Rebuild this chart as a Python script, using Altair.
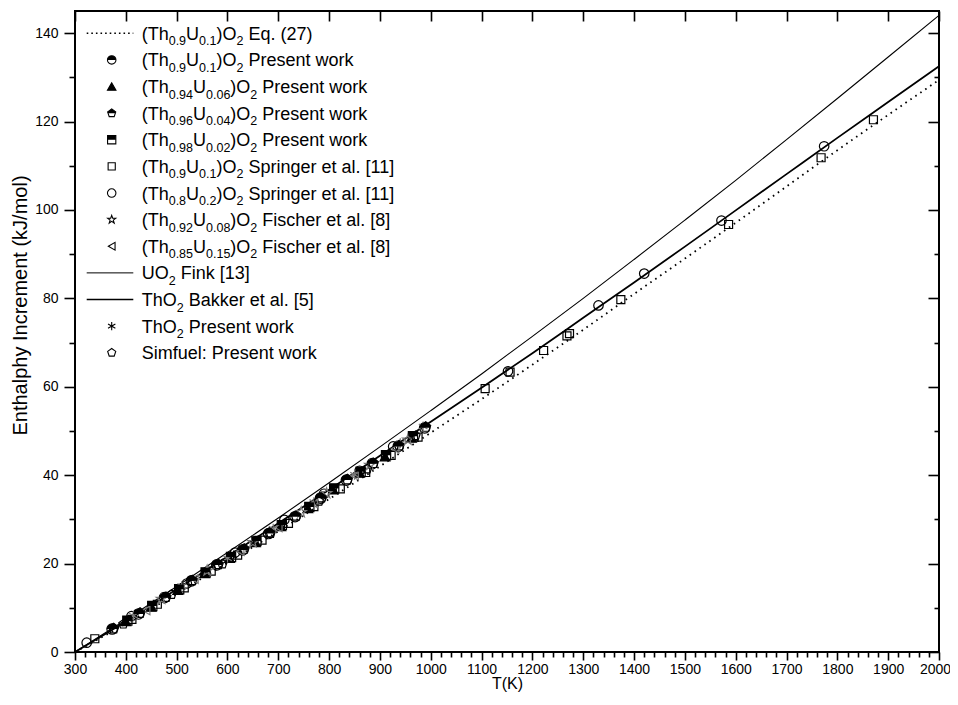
import math
import re
import altair as alt
import pandas as pd

# ---------------- values ----------------
T_CURVE = [300, 400, 500, 600, 700, 800, 900, 1000, 1100, 1200, 1300, 1400,
           1500, 1600, 1700, 1800, 1900, 2000]
H_FINK = [0.0, 7.3, 14.8, 22.5, 30.3, 38.3, 46.4, 54.6, 62.9, 71.4, 80.0, 88.8,
          97.7, 106.7, 115.9, 125.2, 134.6, 144.0]
H_BAKKER = [0.0, 6.9, 14.2, 21.6, 29.1, 36.7, 44.4, 52.1, 59.8, 67.6, 75.6, 83.6,
            91.7, 99.9, 108.1, 116.3, 124.4, 132.5]
H_EQ27 = [0.0, 6.4, 13.2, 20.2, 27.3, 34.6, 42.0, 49.6, 57.2, 65.0, 72.9, 81.0,
          89.0, 97.1, 105.3, 113.5, 121.5, 129.4]

PW90_T = [373, 425, 476, 529, 579, 630, 681, 733, 783, 834, 885, 936, 988]
PW90_H = [5.2, 8.6, 12.3, 16.1, 19.7, 23.1, 26.8, 30.6, 34.8, 38.9, 42.6, 46.5, 50.7]
PW94_T = [400, 450, 502, 555, 604, 655, 705, 758, 808, 860, 910, 962]
PW94_H = [6.9, 10.2, 14.0, 17.8, 21.2, 24.8, 28.4, 32.5, 36.7, 40.5, 44.2, 48.4]
PW96_T = [376, 428, 479, 531, 582, 633, 683, 735, 785, 836, 887, 938, 990]
PW96_H = [5.3, 8.8, 12.4, 16.2, 19.8, 23.3, 27.0, 30.8, 34.9, 39.0, 42.7, 46.7, 50.9]
PW98_T = [403, 452, 505, 557, 607, 657, 707, 761, 810, 862, 912, 965]
PW98_H = [7.1, 10.4, 14.2, 18.0, 21.5, 25.1, 28.7, 32.8, 37.0, 40.8, 44.5, 48.8]
SPR90_T = [339, 412, 462, 515, 568, 620, 668, 720, 770, 822, 872, 922, 975,
           1107, 1156, 1222, 1268, 1273, 1374, 1586, 1768, 1871]
SPR90_H = [3.0, 7.4, 10.8, 14.5, 18.3, 21.9, 25.3, 29.1, 32.9, 36.9, 40.6, 44.5, 48.6,
           59.6, 63.3, 68.2, 71.5, 72.0, 79.7, 96.7, 111.8, 120.4]
SPR80_T = [323, 411, 520, 615, 712, 790, 860, 926, 1152, 1330, 1420, 1572, 1774]
SPR80_H = [2.1, 8.1, 15.5, 22.5, 29.9, 35.8, 41.0, 46.5, 63.5, 78.4, 85.6, 97.6, 114.4]
FIS92_T = [470, 560, 650, 745, 795, 880, 955]
FIS92_H = [12.0, 18.4, 24.8, 31.6, 35.9, 42.3, 48.0]
FIS85_T = [440, 535, 625, 700, 770, 850, 930]
FIS85_H = [9.4, 16.5, 22.8, 28.2, 33.6, 39.9, 46.0]
THO2_T = [415, 510, 600, 690, 770, 850, 940, 985]
THO2_H = [8.2, 14.9, 21.2, 27.9, 33.9, 40.1, 47.2, 51.0]
SIM_T = [395, 490, 590, 685, 780, 875, 970]
SIM_H = [6.3, 13.0, 19.9, 26.8, 34.1, 41.4, 48.9]

X_MAJOR = list(range(300, 2001, 100))
X_MINOR = [t for t in range(320, 2000, 20) if t % 100]
Y_MAJOR = list(range(0, 141, 20))
Y_MINOR = list(range(10, 141, 20))

LEGEND = [
    ("eq27", "(Th_{0.9}U_{0.1})O_{2} Eq. (27)"),
    ("pw90", "(Th_{0.9}U_{0.1})O_{2} Present work"),
    ("pw94", "(Th_{0.94}U_{0.06})O_{2} Present work"),
    ("pw96", "(Th_{0.96}U_{0.04})O_{2} Present work"),
    ("pw98", "(Th_{0.98}U_{0.02})O_{2} Present work"),
    ("spr90", "(Th_{0.9}U_{0.1})O_{2} Springer et al. [11]"),
    ("spr80", "(Th_{0.8}U_{0.2})O_{2} Springer et al. [11]"),
    ("fis92", "(Th_{0.92}U_{0.08})O_{2} Fischer et al. [8]"),
    ("fis85", "(Th_{0.85}U_{0.15})O_{2} Fischer et al. [8]"),
    ("fink", "UO_{2} Fink [13]"),
    ("bakker", "ThO_{2} Bakker et al. [5]"),
    ("tho2", "ThO_{2} Present work"),
    ("sim", "Simfuel: Present work"),
]

# ---------------- styling / geometry ----------------
FONT = "Liberation Sans, Arial, Helvetica, sans-serif"
MAIN, SUB = 18, 12.5
MAIN_DY, SUB_DY = 6.5, 12.0
ROW0, ROWSTEP = 22.3, 26.62
MARK_X, LINE_X1, LINE_X2, TEXT_X = 36.7, 11.7, 58.3, 66.7

def star_path():
    pts = []
    for k in range(10):
        r = 1.0 if k % 2 == 0 else 0.40
        a = math.radians(-90 + 36 * k)
        pts.append(f"{r*math.cos(a):.3f},{r*math.sin(a):.3f}")
    return "M" + "L".join(pts) + "Z"

PENT = "M0,-1L0.951,-0.309L0.588,0.809L-0.588,0.809L-0.951,-0.309Z"
HALF_PENT = "M0,-1L0.951,-0.309L0.851,0L-0.851,0L-0.951,-0.309Z"
HALF_CIRC = "M-1,0A1,1,0,0,1,1,0Z"
HALF_SQ = "M-1,-1L1,-1L1,0L-1,0Z"
ASTER = "M0,-1L0,1M-0.866,-0.5L0.866,0.5M-0.866,0.5L0.866,-0.5"
STAR = star_path()

STYLE = {
    "pw90": ("circle", "transparent", "black", HALF_CIRC, 110),
    "pw94": ("triangle-up", "black", "black", None, 95),
    "pw96": (PENT, "transparent", "black", HALF_PENT, 110),
    "pw98": ("square", "transparent", "black", HALF_SQ, 85),
    "spr90": ("square", "transparent", "black", None, 64),
    "spr80": ("circle", "transparent", "black", None, 90),
    "fis92": (STAR, "transparent", "#777777", None, 120),
    "fis85": ("triangle-left", "transparent", "#777777", None, 75),
    "tho2": (ASTER, "transparent", "#777777", None, 100),
    "sim": (PENT, "transparent", "black", None, 90),
}
SERIES = [("pw90", PW90_T, PW90_H), ("pw94", PW94_T, PW94_H),
          ("pw96", PW96_T, PW96_H), ("pw98", PW98_T, PW98_H),
          ("spr90", SPR90_T, SPR90_H), ("spr80", SPR80_T, SPR80_H),
          ("fis92", FIS92_T, FIS92_H), ("fis85", FIS85_T, FIS85_H),
          ("tho2", THO2_T, THO2_H), ("sim", SIM_T, SIM_H)]

W = {' ': 278, '(': 333, ')': 333, '.': 278, '[': 278, ']': 278, ':': 278, '/': 278,
     'T': 611, 'h': 556, 'U': 722, 'O': 778, 'E': 667, 'q': 556, 'P': 667, 'r': 333,
     'e': 556, 's': 500, 'n': 556, 't': 278, 'w': 722, 'o': 556, 'k': 500, 'S': 667,
     'p': 556, 'i': 222, 'g': 556, 'a': 556, 'l': 222, 'F': 611, 'c': 500, 'B': 667,
     'm': 833, 'f': 278, 'u': 556, 'K': 667}

def tw(s, size):
    return sum(W.get(c, 556) for c in s) * size / 1000.0

# ---------------- tables ----------------
curves = pd.DataFrame({"T": T_CURVE, "fink": H_FINK, "bakker": H_BAKKER, "eq27": H_EQ27})

pts, halves = [], []
for key, ts, hs in SERIES:
    shp, fill, stroke, half, size = STYLE[key]
    for t, h in zip(ts, hs):
        pts.append(dict(T=t, H=h, shp=shp, fill=fill, stroke=stroke, size=size))
        if half:
            halves.append(dict(T=t, H=h, shp=half, size=size))
pts = pd.DataFrame(pts)
halves = pd.DataFrame(halves)

leg_main, leg_sub, leg_pts, leg_half, leg_lines = [], [], [], [], {}
for i, (key, label) in enumerate(LEGEND):
    yc = ROW0 + i * ROWSTEP
    x = TEXT_X
    parts = re.split(r"_\{([^}]*)\}", label)
    for k, p in enumerate(parts):
        if not p:
            continue
        is_sub = k % 2 == 1
        size = SUB if is_sub else MAIN
        s = p.lstrip(" ")
        x += tw(p[:len(p) - len(s)], size)
        (leg_sub if is_sub else leg_main).append(
            dict(px=x, py=yc + (SUB_DY if is_sub else MAIN_DY), t=s))
        x += tw(s, size)
    if key in STYLE:
        shp, fill, stroke, half, size = STYLE[key]
        leg_pts.append(dict(px=MARK_X, py=yc, shp=shp, fill=fill,
                            stroke="black", size=min(size, 90) * 0.8))
        if half:
            leg_half.append(dict(px=MARK_X, py=yc, shp=half, size=min(size, 90) * 0.8))
    else:
        leg_lines[key] = pd.DataFrame([dict(x1=LINE_X1, x2=LINE_X2, y=yc)])

# ---------------- scales & axes ----------------
xs = alt.Scale(domain=[300, 2000], nice=False, zero=False)
ys = alt.Scale(domain=[0, 145], nice=False, zero=False)
common = dict(grid=False, domain=False, tickColor="black", tickWidth=1.6)
xlab = dict(format="d", tickSize=8, labelFont=FONT, labelFontSize=14,
            labelColor="black", labelPadding=2, labelFlush=False, labelOverlap=False)

ax_bottom = alt.Axis(orient="bottom", values=X_MAJOR[:-1], title="T(K)",
                     titleFont=FONT, titleFontSize=16, titleFontWeight="normal",
                     titleColor="black", titleBaseline="alphabetic", titleY=36,
                     **xlab, **common)
ax_bottom_last = alt.Axis(orient="bottom", values=X_MAJOR[-1:], title=None,
                          labelOffset=-4, **xlab, **common)
ax_bottom_minor = alt.Axis(orient="bottom", values=X_MINOR, tickSize=5, labels=False,
                           title=None, **common)
ax_top = alt.Axis(orient="top", values=X_MAJOR, tickSize=10, offset=-10,
                  labels=False, title=None, **common)
ax_left = alt.Axis(orient="left", values=Y_MAJOR, format="d", tickSize=11,
                   labelFont=FONT, labelFontSize=14, labelColor="black", labelPadding=6,
                   labelFlush=False, title="Enthalphy Increment (kJ/mol)",
                   titleFont=FONT, titleFontSize=20, titleFontWeight="normal",
                   titleColor="black", titleX=-55, titleY=294,
                   titleBaseline="middle", titleAlign="center", **common)
ax_left_minor = alt.Axis(orient="left", values=Y_MINOR, tickSize=6, labels=False,
                         title=None, **common)
ax_right = alt.Axis(orient="right", values=Y_MAJOR, tickSize=11, offset=-11,
                    labels=False, title=None, **common)
ax_right_minor = alt.Axis(orient="right", values=Y_MINOR, tickSize=5, offset=-5,
                          labels=False, title=None, **common)

base = alt.Chart(curves)
l_fink = base.mark_line(color="black", strokeWidth=1.1, interpolate="monotone").encode(
    x=alt.X("T:Q", scale=xs, axis=ax_bottom),
    y=alt.Y("fink:Q", scale=ys, axis=ax_left))
l_bakker = base.mark_line(color="black", strokeWidth=1.8, interpolate="monotone").encode(
    x=alt.X("T:Q", scale=xs, axis=ax_bottom_minor),
    y=alt.Y("bakker:Q", scale=ys, axis=ax_left_minor))
l_eq27 = base.mark_line(color="black", strokeWidth=1.8, strokeDash=[1.6, 4.4],
                        interpolate="monotone").encode(
    x=alt.X("T:Q", scale=xs, axis=ax_top),
    y=alt.Y("eq27:Q", scale=ys, axis=ax_right))
l_ghost = base.mark_line(opacity=0).encode(
    x=alt.X("T:Q", scale=xs, axis=ax_bottom_last),
    y=alt.Y("eq27:Q", scale=ys, axis=ax_right_minor))

p_base = alt.Chart(pts).mark_point(filled=True, opacity=1, strokeWidth=1.2).encode(
    x=alt.X("T:Q", scale=xs, axis=None),
    y=alt.Y("H:Q", scale=ys, axis=None),
    shape=alt.Shape("shp:N", scale=None),
    fill=alt.Fill("fill:N", scale=None),
    stroke=alt.Stroke("stroke:N", scale=None),
    size=alt.Size("size:Q", scale=None))
p_half = alt.Chart(halves).mark_point(filled=True, opacity=1, color="black",
                                      strokeWidth=0).encode(
    x=alt.X("T:Q", scale=xs, axis=None),
    y=alt.Y("H:Q", scale=ys, axis=None),
    shape=alt.Shape("shp:N", scale=None),
    size=alt.Size("size:Q", scale=None))

lg_pts = alt.Chart(pd.DataFrame(leg_pts)).mark_point(filled=True, opacity=1,
                                                     strokeWidth=1.1).encode(
    x=alt.X("px:Q", scale=None, axis=None), y=alt.Y("py:Q", scale=None, axis=None),
    shape=alt.Shape("shp:N", scale=None), fill=alt.Fill("fill:N", scale=None),
    stroke=alt.Stroke("stroke:N", scale=None), size=alt.Size("size:Q", scale=None))
lg_half = alt.Chart(pd.DataFrame(leg_half)).mark_point(filled=True, opacity=1,
                                                       color="black", strokeWidth=0).encode(
    x=alt.X("px:Q", scale=None, axis=None), y=alt.Y("py:Q", scale=None, axis=None),
    shape=alt.Shape("shp:N", scale=None), size=alt.Size("size:Q", scale=None))

def leg_rule(key, **kw):
    return alt.Chart(leg_lines[key]).mark_rule(color="black", **kw).encode(
        x=alt.X("x1:Q", scale=None, axis=None), x2="x2:Q",
        y=alt.Y("y:Q", scale=None, axis=None))

lg_r1 = leg_rule("eq27", strokeWidth=1.6, strokeDash=[1.6, 3.0])
lg_r2 = leg_rule("fink", strokeWidth=1.0)
lg_r3 = leg_rule("bakker", strokeWidth=1.6)

lg_main = alt.Chart(pd.DataFrame(leg_main)).mark_text(
    align="left", baseline="alphabetic", font=FONT, fontSize=MAIN, color="black").encode(
    x=alt.X("px:Q", scale=None, axis=None), y=alt.Y("py:Q", scale=None, axis=None),
    text="t:N")
lg_sub = alt.Chart(pd.DataFrame(leg_sub)).mark_text(
    align="left", baseline="alphabetic", font=FONT, fontSize=SUB, color="black").encode(
    x=alt.X("px:Q", scale=None, axis=None), y=alt.Y("py:Q", scale=None, axis=None),
    text="t:N")

chart = alt.layer(
    l_fink, l_bakker, l_eq27, l_ghost, p_base, p_half,
    lg_r1, lg_r2, lg_r3, lg_pts, lg_half, lg_main, lg_sub
).resolve_axis(x="independent", y="independent").properties(
    width=864, height=641,
    autosize=alt.AutoSizeParams(type="none"),
    padding={"left": 67, "top": 3, "right": 11, "bottom": 40},
    background="white",
).configure_view(stroke="black", strokeWidth=2)

chart.save("out.html", embed_options={"renderer": "svg", "actions": False})
